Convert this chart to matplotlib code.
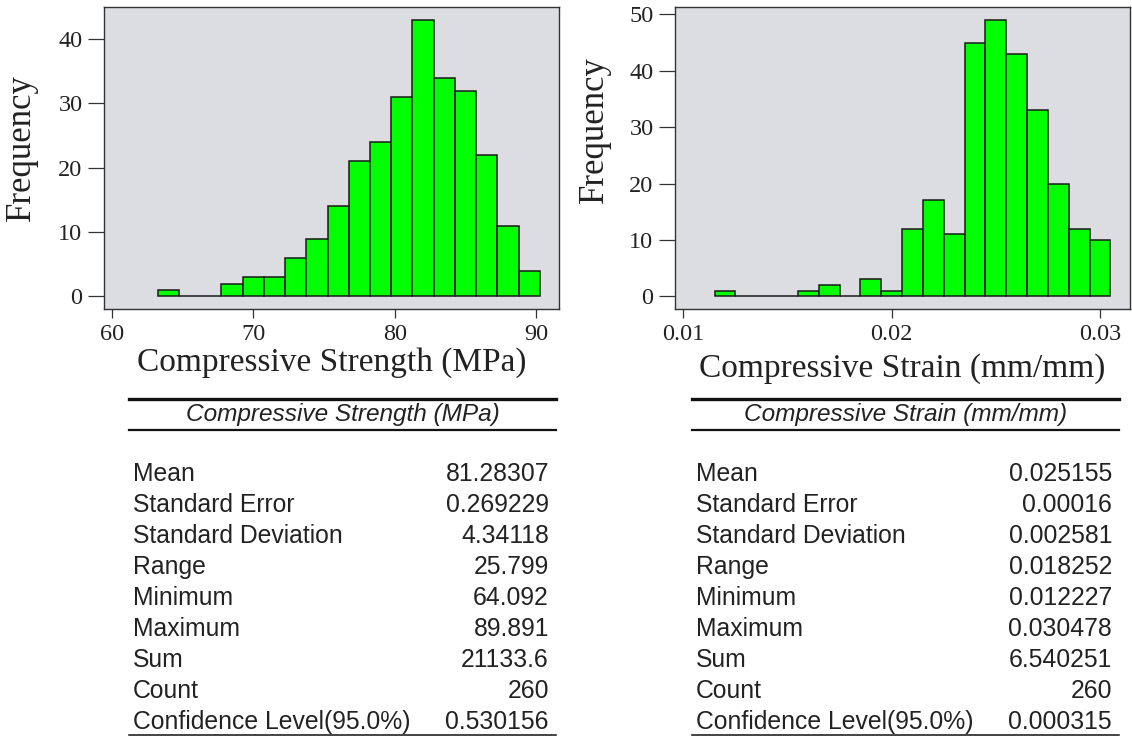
import matplotlib
matplotlib.use('Agg')
import matplotlib.pyplot as plt
from matplotlib.lines import Line2D

# histogram data (bin midpoints and counts)
strength_mid = [64.0, 65.5, 67.0, 68.5, 70.0, 71.5, 73.0, 74.5, 76.0, 77.5,
                79.0, 80.5, 82.0, 83.5, 85.0, 86.5, 88.0, 89.5]
strength_cnt = [1, 0, 0, 2, 3, 3, 6, 9, 14, 21, 24, 31, 43, 34, 32, 22, 11, 4]
strength_w = 1.5

strain_mid = [0.012, 0.013, 0.014, 0.015, 0.016, 0.017, 0.018, 0.019, 0.020, 0.021,
              0.022, 0.023, 0.024, 0.025, 0.026, 0.027, 0.028, 0.029, 0.030]
strain_cnt = [1, 0, 0, 0, 1, 2, 0, 3, 1, 12, 17, 11, 45, 49, 43, 33, 20, 12, 10]
strain_w = 0.001

# descriptive statistics
stat_names = ['Mean', 'Standard Error', 'Standard Deviation', 'Range', 'Minimum',
              'Maximum', 'Sum', 'Count', 'Confidence Level(95.0%)']
strength_stats = ['81.28307', '0.269229', '4.34118', '25.799', '64.092',
                  '89.891', '21133.6', '260', '0.530156']
strain_stats = ['0.025155', '0.00016', '0.002581', '0.018252', '0.012227',
                '0.030478', '6.540251', '260', '0.000315']

W, H = 1132, 736
fig = plt.figure(figsize=(W / 100, H / 100), dpi=100)

def fx(px):
    return px / W

def fy(py):
    return 1 - py / H

serif = 'Liberation Serif'
sans = 'Liberation Sans'
bg = '#dcdde0'
green = '#00ff00'


def hist_panel(left, mids, cnts, w, xlim, ylim, xticks, xticklabels, yticks,
               xlabel, ylab_xy, xlabelpad):
    ax = fig.add_axes([fx(left), fy(309), fx(455), 302 / H])
    ax.set_facecolor(bg)
    ax.bar(mids, cnts, width=w, color=green, edgecolor='#1a1a1a', linewidth=1.1)
    ax.set_xlim(*xlim)
    ax.set_ylim(*ylim)
    ax.set_xticks(xticks)
    ax.set_xticklabels(xticklabels)
    ax.set_yticks(yticks)
    for s in ax.spines.values():
        s.set_color('#333333')
        s.set_linewidth(1.0)
    ax.tick_params(axis='y', length=11.5, width=0.9, pad=4, color='#333333',
                   labelsize=17.5)
    ax.tick_params(axis='x', length=6.5, width=0.9, pad=4, color='#333333',
                   labelsize=17.5)
    for t in ax.get_xticklabels() + ax.get_yticklabels():
        t.set_family(serif)
        t.set_color('#222222')
    ax.set_ylabel('Frequency', family=serif, fontsize=25, color='#222222')
    ax.yaxis.set_label_coords(*ylab_xy)
    ax.set_xlabel(xlabel, family=serif, fontsize=24, color='#222222',
                  labelpad=xlabelpad)
    return ax


hist_panel(104, strength_mid, strength_cnt, strength_w, (59.46, 91.6), (-1.95, 45.0),
           [60, 70, 80, 90], ['60', '70', '80', '90'], [0, 10, 20, 30, 40],
           'Compressive Strength (MPa)', (-0.146, 0.533), 2)
hist_panel(675, strain_mid, strain_cnt, strain_w, (0.0096, 0.03144), (-2.25, 51.3),
           [0.01, 0.02, 0.03], ['0.01', '0.02', '0.03'], [0, 10, 20, 30, 40, 50],
           'Compressive Strain (mm/mm)', (-0.14, 0.593), 6)


def stats_table(x0, x1, title, values):
    fig.add_artist(Line2D([fx(x0), fx(x1)], [fy(399), fy(399)], color='#111111', lw=2.4))
    fig.add_artist(Line2D([fx(x0), fx(x1)], [fy(429.5), fy(429.5)], color='#111111', lw=1.6))
    fig.add_artist(Line2D([fx(x0), fx(x1)], [fy(735), fy(735)], color='#111111', lw=1.1))
    fig.text(fx((x0 + x1) / 2), fy(414), title, family=sans, style='italic',
             fontsize=17.6, ha='center', va='center', color='#222222')
    for i, (name, val) in enumerate(zip(stat_names, values)):
        y = fy(474 + 31 * i)
        fig.text(fx(x0 + 4), y, name, family=sans, fontsize=17.8, ha='left',
                 va='center', color='#222222')
        fig.text(fx(x1 - 7), y, val, family=sans, fontsize=17.8, ha='right',
                 va='center', color='#222222')


stats_table(129, 556, 'Compressive Strength (MPa)', strength_stats)
stats_table(692, 1119, 'Compressive Strain (mm/mm)', strain_stats)

fig.savefig('out.png', dpi=100)
